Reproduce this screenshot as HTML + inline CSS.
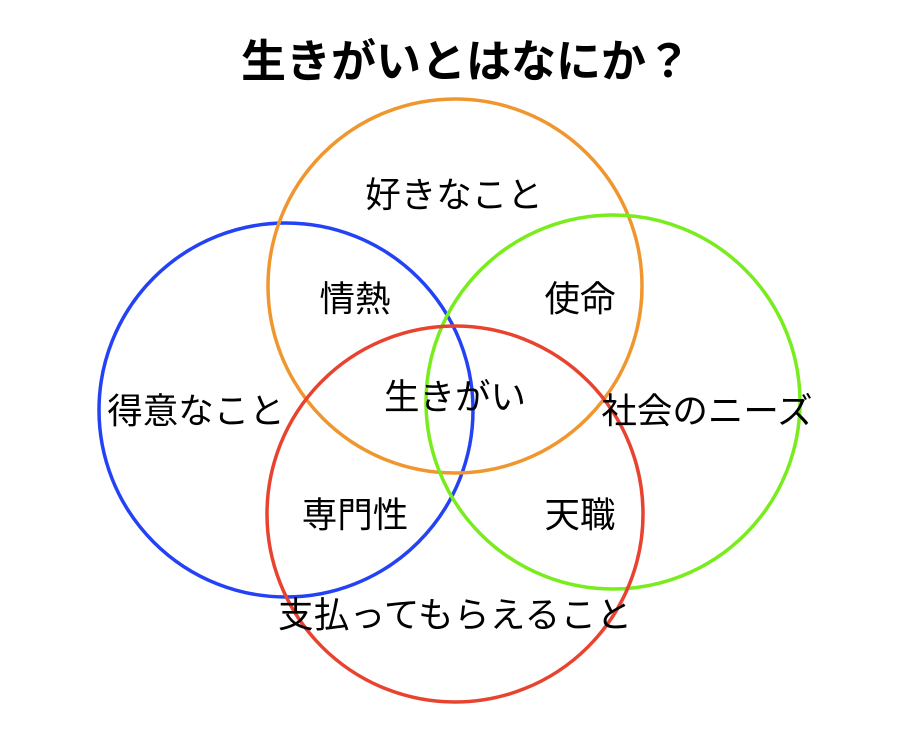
<!DOCTYPE html>
<html><head><meta charset="utf-8"><style>
html,body{margin:0;padding:0;background:#fff;}
svg{display:block;}
text{font-family:"Liberation Sans","Noto Sans CJK JP",sans-serif;fill:#000;}
</style></head><body>
<svg width="920" height="748" viewBox="0 0 920 748" xmlns="http://www.w3.org/2000/svg">
<rect width="920" height="748" fill="#fff"/>
<text x="466" y="77" font-size="45" font-weight="bold" text-anchor="middle">生きがいとはなにか？</text>
<g fill="none" stroke-width="3.5">
<circle cx="286" cy="410" r="187" stroke="#2342F5"/>
<circle cx="455" cy="286" r="187" stroke="#F0962E"/>
<circle cx="613" cy="402" r="187" stroke="#78EC1C"/>
<circle cx="455" cy="514" r="188" stroke="#E8432F"/>
</g>
<g font-size="35.5" text-anchor="middle">
<text x="454" y="207">好きなこと</text>
<text x="355" y="311">情熱</text>
<text x="580" y="311">使命</text>
<text x="196" y="423">得意なこと</text>
<text x="455" y="409">生きがい</text>
<text x="707" y="423">社会のニーズ</text>
<text x="355" y="527">専門性</text>
<text x="580" y="527">天職</text>
<text x="455" y="627" textLength="354" lengthAdjust="spacing">支払ってもらえること</text>
</g>
</svg>
</body></html>
